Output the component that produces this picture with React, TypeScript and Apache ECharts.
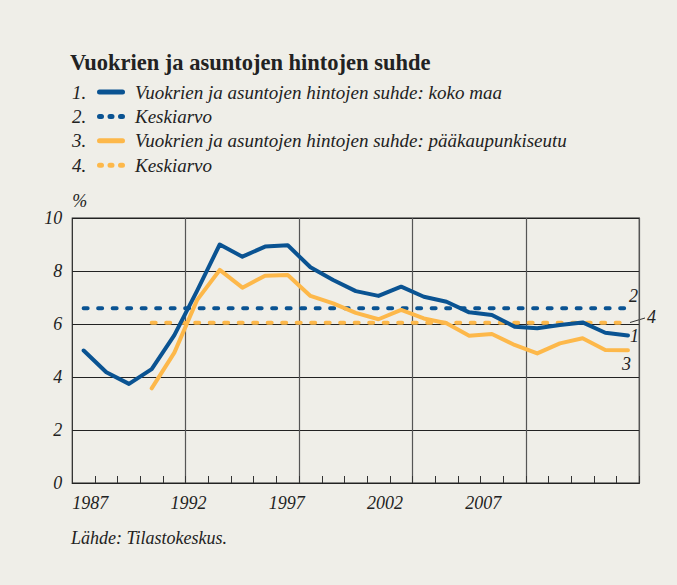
import React, { useEffect, useRef } from 'react';
import * as echarts from 'echarts';

const years = ['1987','1988','1989','1990','1991','1992','1993','1994','1995','1996','1997','1998','1999','2000','2001','2002','2003','2004','2005','2006','2007','2008','2009','2010','2011'];
const kokoMaa = [5.0, 4.18, 3.74, 4.30, 5.58, 7.25, 9.0, 8.54, 8.92, 8.97, 8.14, 7.66, 7.24, 7.06, 7.41, 7.03, 6.84, 6.44, 6.34, 5.90, 5.84, 5.96, 6.06, 5.67, 5.57];
const paakaupunkiseutu = [null, null, null, 3.57, 4.92, 6.9, 8.04, 7.37, 7.82, 7.85, 7.06, 6.78, 6.42, 6.18, 6.53, 6.21, 6.03, 5.56, 5.62, 5.21, 4.89, 5.27, 5.46, 5.02, 5.01];
const keskiarvoKoko = 6.59;
const keskiarvoPk = 6.05;
const yTicks = [0, 2, 4, 6, 8, 10];
const xLabelYears = [1987, 1992, 1997, 2002, 2007];
const seriesNames = [
  'Vuokrien ja asuntojen hintojen suhde: koko maa',
  'Keskiarvo',
  'Vuokrien ja asuntojen hintojen suhde: pääkaupunkiseutu',
  'Keskiarvo ',
];
const legendNumbers = ['1.', '2.', '3.', '4.'];

const BLUE = '#0a5392';
const ORANGE = '#fdb84a';
const BG = '#efeee8';
const INK = '#222222';
const FONT = '"Liberation Serif", "DejaVu Serif", serif';

const SOLID_ICON = 'path://M2.5,0 h23 a2.5,2.5 0 0 1 0,5 h-23 a2.5,2.5 0 0 1 0,-5 z';
const DOT_ICON =
  'path://M2.5,0 h2 a2.5,2.5 0 0 1 0,5 h-2 a2.5,2.5 0 0 1 0,-5 z M13,0 h2 a2.5,2.5 0 0 1 0,5 h-2 a2.5,2.5 0 0 1 0,-5 z M23.5,0 h2 a2.5,2.5 0 0 1 0,5 h-2 a2.5,2.5 0 0 1 0,-5 z';

export default function App() {
  const ref = useRef<HTMLDivElement>(null);
  useEffect(() => {
    const chart = echarts.init(ref.current!, null, { renderer: 'svg' });
    const italic = { fontStyle: 'italic', fontFamily: FONT, color: INK, fontSize: 18 };
    const avgKoko = kokoMaa.map((v) => (v == null ? null : keskiarvoKoko));
    const avgPk = paakaupunkiseutu.map((v) => (v == null ? null : keskiarvoPk));
    const dash = [4, 10.5];
    const rowY0 = 92;
    const rowStep = 24.4;
    const option: any = {
      animation: false,
      backgroundColor: BG,
      textStyle: { fontFamily: FONT },
      title: {
        text: 'Vuokrien ja asuntojen hintojen suhde',
        left: 70,
        top: 50.5,
        padding: 0,
        textStyle: { fontFamily: FONT, fontWeight: 'bold', fontSize: 22.5, color: INK },
      },
      legend: {
        orient: 'vertical',
        left: 97,
        top: rowY0 - 10,
        padding: 0,
        itemWidth: 28,
        itemHeight: 5,
        itemGap: rowStep - 20,
        selectedMode: false,
        data: seriesNames.map((name, i) => ({ name, icon: i % 2 === 0 ? SOLID_ICON : DOT_ICON })),
        itemStyle: { borderWidth: 0 },
        textStyle: { ...italic, fontSize: 19, lineHeight: 20, padding: [0, 0, 0, 5] },
      },
      grid: {
        left: 72.3,
        right: 37.7,
        top: 218,
        bottom: 102,
        show: true,
        borderColor: INK,
        borderWidth: 1.2,
        containLabel: false,
      },
      xAxis: [
        {
          type: 'category',
          data: years,
          boundaryGap: true,
          axisLine: { show: true, lineStyle: { color: INK, width: 1.2 } },
          axisTick: { show: true, inside: true, length: 7, interval: 0, lineStyle: { color: '#333' } },
          axisLabel: { show: false },
          splitLine: {
            show: true,
            interval: (i: number) => i > 0 && i % 5 === 0,
            lineStyle: { color: '#555', width: 1.2 },
          },
        },
        {
          type: 'value',
          position: 'bottom',
          min: xLabelYears[0] + 0.1,
          max: 2015.95,
          interval: 5,
          axisLine: { show: false },
          axisTick: { show: false },
          splitLine: { show: false },
          axisLabel: {
            ...italic,
            align: 'left',
            margin: 11,
            showMaxLabel: false,
            showMinLabel: true,
            formatter: (v: number) => {
              const y = Math.round(v);
              return xLabelYears.includes(y) ? String(y) : '';
            },
          },
        },
      ],
      yAxis: {
        type: 'value',
        min: yTicks[0],
        max: yTicks[yTicks.length - 1],
        interval: 2,
        name: '%',
        nameLocation: 'end',
        nameGap: 8,
        nameTextStyle: { ...italic, align: 'left' },
        axisLine: { show: false },
        axisTick: { show: false },
        axisLabel: { ...italic, margin: 10 },
        splitLine: { show: true, lineStyle: { color: INK, width: 1 } },
      },
      series: [
        {
          name: seriesNames[0],
          type: 'line',
          data: kokoMaa,
          symbol: 'none',
          z: 4,
          lineStyle: { color: BLUE, width: 4, cap: 'round', join: 'round' },
          itemStyle: { color: BLUE },
          endLabel: { show: true, formatter: '1', distance: 2, offset: [0, 1], ...italic },
        },
        {
          name: seriesNames[1],
          type: 'line',
          data: avgKoko,
          symbol: 'none',
          z: 2,
          lineStyle: { color: BLUE, width: 4, type: dash, cap: 'round' },
          itemStyle: { color: BLUE },
          endLabel: { show: true, formatter: '2', distance: 2, offset: [-1, -12], ...italic },
        },
        {
          name: seriesNames[2],
          type: 'line',
          data: paakaupunkiseutu,
          symbol: 'none',
          z: 3,
          lineStyle: { color: ORANGE, width: 4, cap: 'round', join: 'round' },
          itemStyle: { color: ORANGE },
          endLabel: { show: true, formatter: '3', distance: 2, offset: [-8, 14], ...italic },
        },
        {
          name: seriesNames[3],
          type: 'line',
          data: avgPk,
          symbol: 'none',
          z: 2,
          lineStyle: { color: ORANGE, width: 4, type: dash, cap: 'round' },
          itemStyle: { color: ORANGE },
          endLabel: { show: true, formatter: '4', distance: 2, offset: [17, -6], ...italic },
        },
      ],
      graphic: [
        ...legendNumbers.map((t, i) => ({
          type: 'text',
          x: 72,
          y: rowY0 + i * rowStep,
          style: { text: t, font: `italic 19px ${FONT}`, fill: INK, verticalAlign: 'middle' },
        })),
        {
          type: 'line',
          shape: { x1: 630, y1: 322.5, x2: 645, y2: 318 },
          style: { stroke: '#333', lineWidth: 1 },
        },
        {
          type: 'text',
          x: 71,
          y: 538,
          style: { text: 'Lähde: Tilastokeskus.', font: `italic 18px ${FONT}`, fill: INK, verticalAlign: 'middle' },
        },
      ],
    };
    chart.setOption(option);
    return () => chart.dispose();
  }, []);
  return (
    <div
      ref={ref}
      style={{ position: 'fixed', left: 0, top: 0, width: 677, height: 585, background: BG }}
    />
  );
}
